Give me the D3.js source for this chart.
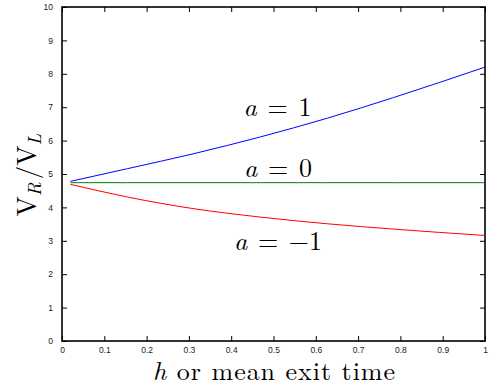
<!DOCTYPE html>
<html><head><meta charset="utf-8">
<script src="https://cdn.jsdelivr.net/npm/d3@7"></script>
<style>body{margin:0;background:#fff}svg{display:block}.sf{font-family:"Latin Modern Roman","Latin Modern Math","CMU Serif","DejaVu Serif","Liberation Serif",serif}</style>
</head><body>
<script>
const xTicks = [0,0.1,0.2,0.3,0.4,0.5,0.6,0.7,0.8,0.9,1];
const yTicks = [0,1,2,3,4,5,6,7,8,9,10];
const hValues = [0.02,0.155,0.312,0.469,0.627,0.784,1.0];
const blueA1 = [4.78,5.16,5.61,6.11,6.67,7.29,8.20];
const greenA0 = [4.74,4.74,4.74,4.74,4.74,4.74,4.74];
const redAm1 = [4.69,4.31,3.96,3.71,3.51,3.35,3.16];
const seriesNames = ["a = 1","a = 0","a = −1"];

const W=491,H=387;
const m={l:62,r:6,t:7,b:46};
const svg=d3.select("body").append("svg").attr("width",W).attr("height",H);
const x=d3.scaleLinear().domain([0,1]).range([m.l,W-m.r]);
const y=d3.scaleLinear().domain([0,10]).range([H-m.b,m.t]);

const tickFont="Liberation Sans, Arial, sans-serif";
const gx=svg.append("g").attr("transform",`translate(0,${H-m.b})`)
  .call(d3.axisBottom(x).tickValues(xTicks).tickSize(-5).tickPadding(6).tickFormat(d=>d===0||d===1?d3.format("d")(d):d3.format(".1f")(d)));
const gxt=svg.append("g").attr("transform",`translate(0,${m.t})`)
  .call(d3.axisTop(x).tickValues(xTicks).tickSize(-5).tickFormat(""));
const gy=svg.append("g").attr("transform",`translate(${m.l},0)`)
  .call(d3.axisLeft(y).tickValues(yTicks).tickSize(-5).tickPadding(9).tickFormat(d3.format("d")));
const gyr=svg.append("g").attr("transform",`translate(${W-m.r},0)`)
  .call(d3.axisRight(y).tickValues(yTicks).tickSize(-5).tickFormat(""));
[gx,gxt,gy,gyr].forEach(g=>{
  g.select(".domain").remove();
  g.selectAll(".tick line").attr("stroke","#000").attr("stroke-width",1);
  g.selectAll("text").attr("font-family",tickFont).attr("font-size",8.5).attr("fill","#222");
});
svg.append("rect").attr("x",m.l).attr("y",m.t).attr("width",W-m.r-m.l).attr("height",H-m.b-m.t)
  .attr("fill","none").attr("stroke","#000").attr("stroke-width",1.6);

const line=d3.line().x((d,i)=>x(hValues[i])).y(d=>y(d)).curve(d3.curveMonotoneX);
[[blueA1,"#0000ff"],[greenA0,"#008000"],[redAm1,"#ff0000"]].forEach(([s,c])=>{
  svg.append("path").attr("d",line(s)).attr("fill","none").attr("stroke",c).attr("stroke-width",1);
});

function label(txt,cx,by){
  const t=svg.append("text").attr("class","sf").attr("x",cx).attr("y",by).attr("text-anchor","middle")
    .attr("font-size",26).attr("fill","#000").attr("word-spacing",2);
  const parts=txt.split(" = ");
  t.append("tspan").attr("font-style","italic").text(parts[0]);
  t.append("tspan").text(" = "+parts[1]);
}
label(seriesNames[0],277.5,116);
label(seriesNames[1],278,177);
label(seriesNames[2],278,250);

// x label
const xl=svg.append("text").attr("class","sf").attr("x",274).attr("y",379.5).attr("text-anchor","middle")
  .attr("font-size",26).attr("fill","#000").attr("textLength",242).attr("lengthAdjust","spacing");
xl.append("tspan").attr("font-style","italic").text("h");
xl.append("tspan").text(" or mean exit time");

// y label
const yl=svg.append("text").attr("class","sf").attr("transform",`translate(36,175) rotate(-90)`)
  .attr("text-anchor","middle").attr("font-size",27).attr("fill","#000");
yl.append("tspan").text("V");
yl.append("tspan").attr("font-style","italic").attr("font-size",19).attr("dy",5).text("R");
yl.append("tspan").attr("dy",-5).attr("dx",3).text("/V");
yl.append("tspan").attr("font-style","italic").attr("font-size",19).attr("dy",5).text("L");
</script>
</body></html>
